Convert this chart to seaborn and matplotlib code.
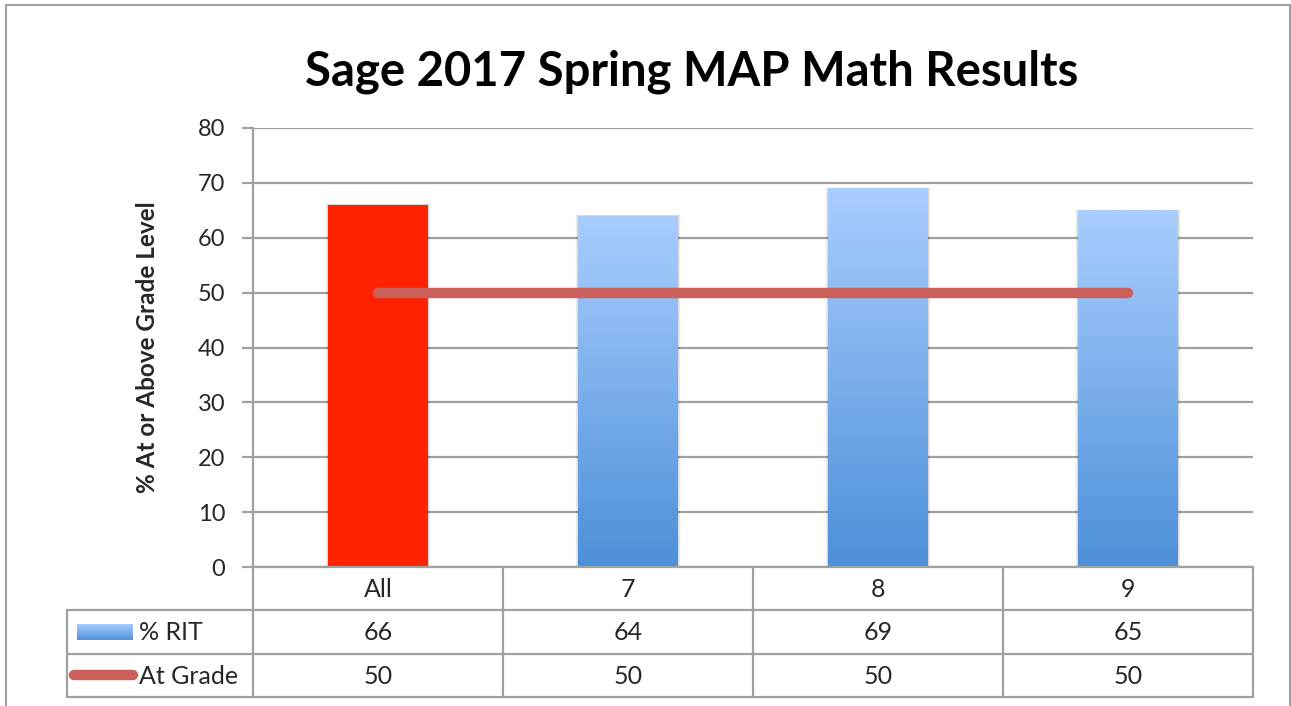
import numpy as np
import pandas as pd
import matplotlib
matplotlib.use("Agg")
import matplotlib.pyplot as plt
import seaborn as sns
from matplotlib.colors import LinearSegmentedColormap
from matplotlib.patches import Rectangle

# chart data
categories = ["All", "7", "8", "9"]
pct_rit = [66, 64, 69, 65]
at_grade = [50, 50, 50, 50]
row_labels = ["% RIT", "At Grade"]
y_ticks = [0, 10, 20, 30, 40, 50, 60, 70, 80]

title = "Sage 2017 Spring MAP Math Results"
ylabel = "% At or Above Grade Level"

sns.set_theme(style="white")
plt.rcParams['font.family'] = ['Lato', 'DejaVu Sans']

grid_color = '#A0A0A0'
red_bar = '#FF2200'
line_color = '#CB605A'
blue_grad = LinearSegmentedColormap.from_list('bluegrad', ['#4D90D9', '#A9CDFE'])

W, H = 1291, 706
fig = plt.figure(figsize=(W / 100, H / 100), dpi=100)
fig.patch.set_facecolor('white')

# outer border
fig.add_artist(Rectangle((6 / W, -0.1), (1290 - 6) / W, 1.1 - 5 / H, transform=fig.transFigure,
                         fill=False, edgecolor=grid_color, lw=1.5))

ax_left, ax_right = 253 / W, 1253 / W
ax_top, ax_bottom = 1 - 128 / H, 1 - 567 / H
ax = fig.add_axes([ax_left, ax_bottom, ax_right - ax_left, ax_top - ax_bottom])

df = pd.DataFrame({'cat': categories, 'rit': pct_rit, 'grade': at_grade})
sns.barplot(data=df, x='cat', y='rit', ax=ax, width=0.4,
            palette=[red_bar] + ['#7FB0EC'] * (len(categories) - 1),
            hue='cat', legend=False, saturation=1, linewidth=0, zorder=3)

# gradient fill for the grade bars
grad = np.linspace(0, 1, 256).reshape(-1, 1)
for i, patch in enumerate(ax.patches):
    if i == 0:
        continue
    x0, y0 = patch.get_x(), patch.get_y()
    w, h = patch.get_width(), patch.get_height()
    im = ax.imshow(grad, cmap=blue_grad, aspect='auto', origin='lower',
                   extent=[x0, x0 + w, y0, y0 + h], zorder=3.5)
    im.set_clip_path(patch)

# soft shadow at bar sides
for patch in list(ax.patches):
    x0, h, w = patch.get_x(), patch.get_height(), patch.get_width()
    for k, a in enumerate([0.08, 0.05, 0.025]):
        d = 0.004 * (k + 1)
        ax.add_patch(Rectangle((x0 - d, 0), w + 2 * d, h + d * 15, color='black',
                               alpha=a, lw=0, zorder=2.5))

ax.plot(np.arange(len(categories)), df['grade'], color=line_color, lw=7.5,
        solid_capstyle='round', zorder=4)

ax.set_ylim(0, 80)
ax.set_xlim(-0.5, len(categories) - 0.5)
ax.set_yticks(y_ticks)
ax.set_yticklabels([str(t) for t in y_ticks], fontsize=17)
ax.set_xticks([])
ax.set_xlabel('')
ax.set_ylabel(ylabel, fontsize=17.5, fontweight='bold', labelpad=28)
ax.yaxis.grid(True, color=grid_color, lw=1.6)
ax.set_axisbelow(True)
for s in ['top', 'right', 'bottom']:
    ax.spines[s].set_visible(False)
ax.spines['left'].set_color(grid_color)
ax.spines['left'].set_linewidth(1.6)
ax.tick_params(axis='y', length=8, width=1.6, color=grid_color, pad=12, left=True)

fig.text(692 / W, 1 - 72 / H, title, ha='center', va='center',
         fontsize=34, fontweight='bold', color='black')

# data table below the axes
tb = fig.add_axes([ax_left, 1 - 697 / H, ax_right - ax_left, (697 - 567) / H])
tb.axis('off')
n = len(categories)
left_edge = -0.5 - (253 - 67) / 250
lw_t = 1.6
tb.plot([-0.5, n - 0.5], [0, 0], color=grid_color, lw=lw_t, clip_on=False)
for r in [1, 2, 3]:
    tb.plot([left_edge, n - 0.5], [r, r], color=grid_color, lw=lw_t, clip_on=False)
for c in range(n + 1):
    tb.plot([c - 0.5, c - 0.5], [0, 3], color=grid_color, lw=lw_t, clip_on=False)
tb.plot([left_edge, left_edge], [1, 3], color=grid_color, lw=lw_t, clip_on=False)

tfs = 18
for c, cat in enumerate(categories):
    tb.text(c, 0.52, cat, ha='center', va='center', fontsize=tfs)
    tb.text(c, 1.52, str(pct_rit[c]), ha='center', va='center', fontsize=tfs)
    tb.text(c, 2.52, str(at_grade[c]), ha='center', va='center', fontsize=tfs)

# legend keys in table
kx0 = left_edge + 10 / 250
kx1 = left_edge + 66 / 250
key = tb.imshow(grad[::-1], cmap=blue_grad, aspect='auto',
                extent=[kx0, kx1, 1.68, 1.32], zorder=3)
key.set_clip_on(False)
tb.plot([left_edge + 7 / 250, kx1], [2.5, 2.5], color=line_color, lw=7.5,
        solid_capstyle='round', clip_on=False)
tb.text(left_edge + 72 / 250, 1.52, row_labels[0], ha='left', va='center', fontsize=tfs)
tb.text(left_edge + 72 / 250, 2.52, row_labels[1], ha='left', va='center', fontsize=tfs)
tb.set_xlim(ax.get_xlim())
tb.set_ylim(3, 0)

fig.savefig('out.png', dpi=100, facecolor='white')
